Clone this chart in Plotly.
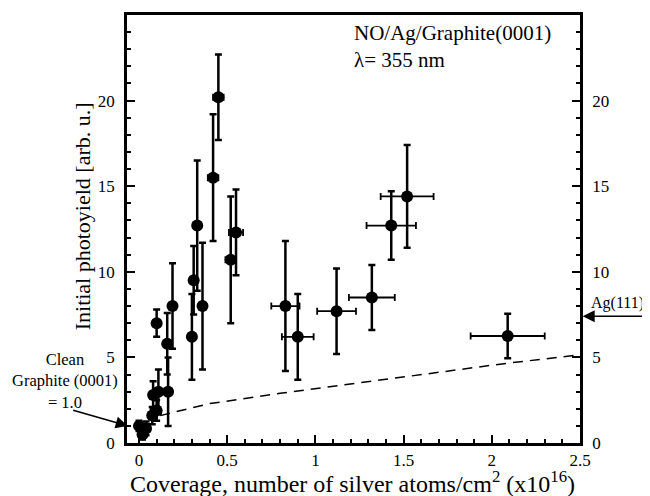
import plotly.graph_objects as go

# Measured data: coverage (x10^16 atoms/cm^2) vs initial photoyield (arb. u.)
coverage = [0.00, 0.02, 0.04, 0.075, 0.10, 0.08, 0.11, 0.165, 0.10, 0.16, 0.19,
            0.30, 0.31, 0.33, 0.36, 0.42, 0.45, 0.52, 0.55, 0.83, 0.90, 1.12,
            1.32, 1.43, 1.52, 2.09]
photoyield = [1.0, 0.5, 0.85, 1.6, 1.9, 2.8, 3.0, 3.0, 7.0, 5.8, 8.0,
              6.2, 9.5, 12.7, 8.0, 15.5, 20.2, 10.7, 12.3, 8.0, 6.2, 7.7,
              8.5, 12.7, 14.4, 6.25]
yield_err = [0.3, 0.3, 0.4, 0.5, 0.6, 0.8, 1.3, 2.0, 0.8, 1.8, 2.5,
             2.5, 2.0, 3.8, 3.7, 3.7, 2.5, 3.7, 2.5, 3.8, 2.5, 2.5,
             1.9, 2.0, 3.0, 1.3]
coverage_err = [0, 0, 0, 0, 0, 0, 0, 0, 0, 0, 0,
                0, 0, 0, 0, 0.03, 0.03, 0.03, 0.04, 0.08, 0.09, 0.11,
                0.13, 0.14, 0.15, 0.21]

# Dashed reference curve
curve_x = [0.12, 0.4, 0.8, 1.25, 1.6, 2.08, 2.5]
curve_y = [1.6, 2.3, 2.9, 3.5, 4.0, 4.65, 5.15]

# Reference levels
clean_level = 1.0
ag111_level = 7.4

FONT = "Liberation Serif, Times New Roman, serif"

fig = go.Figure()

fig.add_trace(go.Scatter(
    x=curve_x, y=curve_y, mode="lines",
    line=dict(color="black", width=1.5, dash="10px,7px"),
    showlegend=False, hoverinfo="skip",
))

fig.add_trace(go.Scatter(
    x=coverage, y=photoyield, mode="markers",
    marker=dict(color="black", size=12, symbol="circle"),
    error_y=dict(type="data", array=yield_err, visible=True,
                 color="black", thickness=2.5, width=3.5),
    error_x=dict(type="data", array=coverage_err, visible=True,
                 color="black", thickness=1.8, width=3.5),
    showlegend=False,
))

# invisible trace so the right-hand axis is drawn
fig.add_trace(go.Scatter(x=[0], y=[0], yaxis="y2", mode="markers",
                         marker=dict(opacity=0), showlegend=False,
                         hoverinfo="skip"))

axis_common = dict(
    showgrid=False, zeroline=False, showline=True, linecolor="black",
    linewidth=2.5, ticks="inside", tickcolor="black", tickwidth=2,
    ticklen=8, tickfont=dict(family=FONT, size=17, color="black"),
)

# The page body has an 8px margin, so the figure is 8px smaller than the window
fig.update_layout(
    width=642, height=488,
    margin=dict(l=119, r=70, t=7, b=53, autoexpand=False),
    paper_bgcolor="white", plot_bgcolor="white",
    font=dict(family=FONT, color="black"),
    xaxis=dict(range=[-0.068, 2.5], tickmode="linear", tick0=0, dtick=0.5,
               mirror=True, ticklabelstandoff=0,
               minor=dict(dtick=0.1, ticks="inside", ticklen=4,
                          tickwidth=2, tickcolor="black"),
               **axis_common),
    yaxis=dict(range=[0, 25], tickmode="linear", tick0=0, dtick=5,
               ticklabelstandoff=6,
               minor=dict(dtick=1, ticks="inside", ticklen=4,
                          tickwidth=2, tickcolor="black"),
               **axis_common),
    yaxis2=dict(range=[0, 25], tickmode="linear", tick0=0, dtick=5,
                overlaying="y", side="right", ticklabelstandoff=6,
                minor=dict(dtick=1, ticks="inside", ticklen=4,
                           tickwidth=2, tickcolor="black"),
                **axis_common),
)

annotations = [
    dict(text="NO/Ag/Graphite(0001)<br>λ= 355 nm", xref="paper", yref="paper",
         x=0.497, y=0.99, xanchor="left", yanchor="top", align="left",
         showarrow=False, font=dict(family=FONT, size=21)),
    dict(text="Clean<br>Graphite (0001)<br>= 1.0", xref="paper", yref="y",
         x=-0.136, y=3.65, xanchor="center", yanchor="middle", align="center",
         showarrow=False, font=dict(family=FONT, size=16.5)),
    dict(text="", xref="x", yref="y", x=-0.064, y=clean_level,
         showarrow=True, ax=-56, ay=-16, arrowhead=2, arrowsize=1.5,
         arrowwidth=1.6, arrowcolor="black"),
    dict(text="Ag(111)", xref="paper", yref="y", x=1.083, y=8.2,
         xanchor="center", yanchor="middle", showarrow=False,
         font=dict(family=FONT, size=16)),
    dict(text="", xref="paper", yref="y", x=1.006, y=ag111_level,
         showarrow=True, ax=62, ay=0, arrowhead=2, arrowsize=1.5,
         arrowwidth=1.6, arrowcolor="black"),
    dict(text="Initial photoyield [arb. u.]", xref="paper", yref="paper",
         x=-0.099, y=0.53, textangle=-90, xanchor="center", yanchor="middle",
         showarrow=False, font=dict(family=FONT, size=22)),
    dict(text="Coverage, number of silver atoms/cm<sup>2</sup> (x10<sup>16</sup>)",
         xref="paper", yref="paper", x=0.497, y=-0.092, xanchor="center",
         yanchor="middle", showarrow=False, borderpad=0,
         font=dict(family=FONT, size=24)),
]
fig.update_layout(annotations=annotations)

fig.write_html("out.html")
